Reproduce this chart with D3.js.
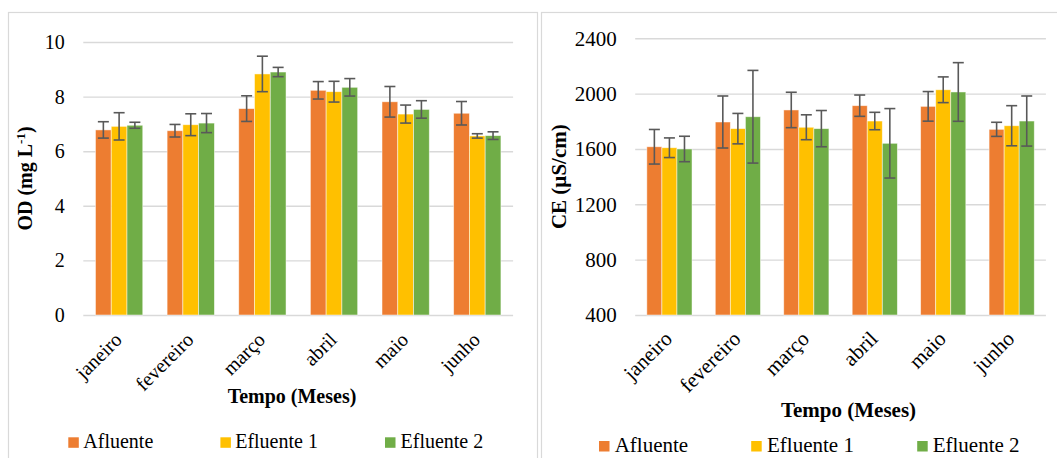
<!DOCTYPE html>
<html>
<head>
<meta charset="utf-8">
<script src="https://cdn.jsdelivr.net/npm/d3@7"></script>
<style>
  body { margin: 0; background: #fff; }
  svg text { font-family: "Liberation Serif", "Times New Roman", Times, serif !important; fill: #000; }
</style>
</head>
<body>
<div id="chart"></div>
<script>
// categories + series
const months = ["janeiro", "fevereiro", "março", "abril", "maio", "junho"];
const seriesNames = ["Afluente", "Efluente 1", "Efluente 2"];
const seriesColors = ["#ED7D31", "#FFC000", "#70AD47"];

// OD (mg L-1)
const odAfluente = [6.78, 6.75, 7.56, 8.23, 7.81, 7.39];
const odAfluenteErr = [0.30, 0.23, 0.47, 0.32, 0.56, 0.43];
const odEfluente1 = [6.91, 6.97, 8.83, 8.18, 7.36, 6.56];
const odEfluente1Err = [0.50, 0.40, 0.65, 0.38, 0.33, 0.08];
const odEfluente2 = [6.95, 7.03, 8.90, 8.34, 7.53, 6.57];
const odEfluente2Err = [0.11, 0.35, 0.17, 0.32, 0.32, 0.14];
const odTicks = [0, 2, 4, 6, 8, 10];

// CE (uS/cm)
const ceAfluente = [1616, 1795, 1882, 1913, 1908, 1742];
const ceAfluenteErr = [125, 188, 128, 77, 107, 51];
const ceEfluente1 = [1609, 1747, 1757, 1802, 2028, 1768];
const ceEfluente1Err = [71, 110, 90, 63, 93, 145];
const ceEfluente2 = [1600, 1833, 1747, 1641, 2012, 1802];
const ceEfluente2Err = [92, 335, 131, 251, 212, 181];
const ceTicks = [400, 800, 1200, 1600, 2000, 2400];

const W = 1057, H = 458;
const svg = d3.select("#chart").append("svg")
    .attr("width", W).attr("height", H);

function drawPanel(p) {
  const g = svg.append("g");

  // chart frame (only top/left/right visible, bottom runs off)
  g.append("rect")
      .attr("x", p.frame[0]).attr("y", p.frame[1])
      .attr("width", p.frame[2]).attr("height", p.frame[3])
      .attr("fill", "none").attr("stroke", "#d9d9d9").attr("stroke-width", 1.2);

  const x0 = d3.scaleBand().domain(months)
      .range([p.left, p.right]).paddingInner(0.34).paddingOuter(0.17);
  const x1 = d3.scaleBand().domain(d3.range(seriesNames.length))
      .range([0, x0.bandwidth()]);
  const y = d3.scaleLinear().domain(p.domain).range([p.bottom, p.top]);

  // gridlines + tick labels
  const yAxis = g.append("g")
      .attr("transform", `translate(${p.left},0)`)
      .call(d3.axisLeft(y).tickValues(p.ticks).tickFormat(d3.format("d"))
        .tickSize(-(p.right - p.left)).tickPadding(18.5));
  yAxis.select(".domain").remove();
  yAxis.attr("font-family", null);
  yAxis.selectAll(".tick line").attr("stroke", "#d9d9d9").attr("stroke-width", 1.4);
  yAxis.selectAll(".tick text")
      .style("font-size", p.fs + "px").attr("fill", "#000");

  // bars
  const rows = months.map((m, i) => ({
    month: m,
    vals: p.series.map((s, k) => ({k: k, v: s[i], e: p.errs[k][i]}))
  }));
  const grp = g.selectAll(".grp").data(rows).join("g")
      .attr("transform", d => `translate(${x0(d.month)},0)`);
  grp.selectAll("rect").data(d => d.vals).join("rect")
      .attr("x", d => x1(d.k))
      .attr("y", d => y(d.v))
      .attr("width", x1.bandwidth())
      .attr("height", d => y(p.domain[0]) - y(d.v))
      .attr("fill", d => seriesColors[d.k])
      .attr("stroke", "rgba(255,255,255,0.6)")
      .attr("stroke-width", 0.8);

  // error bars
  const cap = 5.5;
  const eb = grp.selectAll(".eb").data(d => d.vals).join("g").attr("class", "eb")
      .attr("stroke", "#595959").attr("stroke-width", 1.6);
  eb.append("line")
      .attr("x1", d => x1(d.k) + x1.bandwidth() / 2).attr("x2", d => x1(d.k) + x1.bandwidth() / 2)
      .attr("y1", d => y(d.v + d.e)).attr("y2", d => y(d.v - d.e));
  eb.append("line")
      .attr("x1", d => x1(d.k) + x1.bandwidth() / 2 - cap).attr("x2", d => x1(d.k) + x1.bandwidth() / 2 + cap)
      .attr("y1", d => y(d.v + d.e)).attr("y2", d => y(d.v + d.e));
  eb.append("line")
      .attr("x1", d => x1(d.k) + x1.bandwidth() / 2 - cap).attr("x2", d => x1(d.k) + x1.bandwidth() / 2 + cap)
      .attr("y1", d => y(d.v - d.e)).attr("y2", d => y(d.v - d.e));

  // rotated month labels
  g.selectAll(".mlab").data(months).join("text")
      .attr("class", "mlab")
      .attr("transform", d => `translate(${x0(d) + x0.bandwidth() / 2 + p.labDx},${p.labY}) rotate(-45)`)
      .attr("text-anchor", "end")
      .style("font-size", p.fs + "px")
      .text(d => d);

  // axis titles
  g.append("text")
      .attr("x", p.xTitle[0]).attr("y", p.xTitle[1])
      .attr("text-anchor", "middle").attr("font-weight", "bold")
      .style("font-size", p.fs + "px")
      .text("Tempo (Meses)");

  const yt = g.append("text")
      .attr("transform", `translate(${p.yTitleX},${(p.top + p.bottom) / 2}) rotate(-90)`)
      .attr("text-anchor", "middle").attr("font-weight", "bold")
      .style("font-size", p.fs + "px");
  p.yTitle(yt);

  // legend
  seriesNames.forEach((name, k) => {
    g.append("rect")
        .attr("x", p.legSq[k]).attr("y", p.legY - 11)
        .attr("width", 10.5).attr("height", 10.5)
        .attr("fill", seriesColors[k]);
    g.append("text")
        .attr("x", p.legTx[k]).attr("y", p.legY)
        .style("font-size", p.fs + "px")
        .text(name);
  });
}

drawPanel({
  frame: [8.5, 12.5, 529, 470],
  left: 83.3, right: 513.1, top: 42, bottom: 315,
  domain: [0, 10], ticks: odTicks, fs: 20,
  series: [odAfluente, odEfluente1, odEfluente2],
  errs: [odAfluenteErr, odEfluente1Err, odEfluente2Err],
  labDx: 4, labY: 341,
  xTitle: [292, 403],
  yTitleX: 32,
  yTitle: t => {
    t.append("tspan").text("OD (mg L");
    t.append("tspan").style("font-size", "13px").attr("dy", -7).text("-1");
    t.append("tspan").attr("dy", 7).text(")");
  },
  legSq: [68.3, 220.4, 385], legTx: [83.3, 235.2, 400.5], legY: 448.3
});

drawPanel({
  frame: [541.5, 12.5, 530, 470],
  left: 635.2, right: 1045.9, top: 38.3, bottom: 315,
  domain: [400, 2400], ticks: ceTicks, fs: 21,
  series: [ceAfluente, ceEfluente1, ceEfluente2],
  errs: [ceAfluenteErr, ceEfluente1Err, ceEfluente2Err],
  labDx: 4, labY: 340,
  xTitle: [848.5, 417],
  yTitleX: 565.5,
  yTitle: t => t.text("CE (µS/cm)"),
  legSq: [599, 751.2, 917.2], legTx: [614.7, 767, 932.7], legY: 452
});
</script>
</body>
</html>
